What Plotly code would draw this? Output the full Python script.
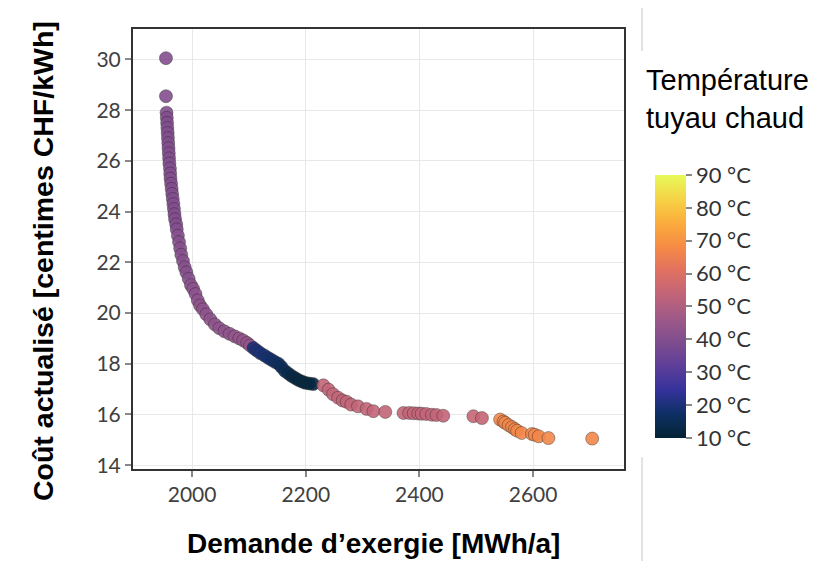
import plotly.graph_objects as go

# Data
demande = [1954, 1954, 1955, 1955.5, 1956, 1956.5, 1957, 1957.5, 1958, 1958.5, 1959, 1959.5,
           1960, 1961, 1961.5, 1962, 1963, 1964, 1965, 1966, 1967, 1968, 1969, 1970, 1972,
           1973, 1975, 1977, 1979, 1981, 1984, 1987, 1990, 1994, 1998, 2002, 2006, 2010,
           2014, 2019, 2025, 2032, 2040, 2048, 2057, 2066, 2075, 2083, 2090, 2097, 2102,
           2108, 2114, 2120, 2127, 2134, 2140, 2146, 2152, 2157, 2163, 2169, 2175, 2181,
           2187, 2193, 2199, 2206, 2213,
           2231, 2240, 2248, 2257, 2265, 2272, 2280, 2292, 2307, 2319, 2340, 2372, 2382,
           2390, 2398, 2404, 2412, 2422, 2430, 2442, 2495, 2510,
           2542, 2548, 2551, 2557, 2563, 2568, 2572, 2580, 2598, 2603, 2610, 2627, 2704]
cout = [30.05, 28.55, 27.9, 27.7, 27.5, 27.3, 27.1, 26.9, 26.7, 26.5, 26.3, 26.1,
        25.9, 25.7, 25.5, 25.3, 25.1, 24.9, 24.7, 24.5, 24.3, 24.1, 23.9, 23.7, 23.5,
        23.3, 23.05, 22.8, 22.55, 22.3, 22.05, 21.8, 21.6, 21.35, 21.1, 20.95, 20.75, 20.5,
        20.3, 20.15, 19.95, 19.75, 19.55, 19.4, 19.28, 19.18, 19.08, 19.0, 18.92, 18.82, 18.72,
        18.62, 18.52, 18.42, 18.33, 18.23, 18.15, 18.07, 18.0, 17.88, 17.72, 17.62, 17.52, 17.44,
        17.36, 17.3, 17.25, 17.22, 17.2,
        17.15, 16.98, 16.8, 16.66, 16.55, 16.5, 16.39, 16.32, 16.22, 16.13, 16.1, 16.06, 16.06,
        16.05, 16.04, 16.03, 16.02, 15.99, 15.98, 15.95, 15.93, 15.86,
        15.8, 15.72, 15.67, 15.58, 15.5, 15.42, 15.36, 15.27, 15.23, 15.2, 15.14, 15.07, 15.05]
temperature = [40, 40, 40, 40, 40, 40, 40, 40, 40, 40, 40, 40,
               40, 40, 40, 40, 40, 40, 40, 40, 40, 40, 40, 40, 40,
               40, 41, 41, 41, 41, 41, 41, 41, 41, 42, 42, 42, 42,
               43, 43, 43, 43, 43, 43, 43, 43, 44, 44, 44, 44, 44,
               20, 20, 20, 19, 19, 18, 18, 17, 16, 15, 14, 13, 13,
               12, 12, 12, 12, 12,
               54, 54, 54, 54, 54, 54, 54, 54, 54, 54, 54, 54, 54,
               54, 54, 54, 54, 54, 54, 54, 55, 55,
               67, 67, 67, 67, 67, 67, 67, 67, 67, 67, 67, 67, 67]

cb_vals = [10, 20, 30, 40, 50, 60, 70, 80, 90]
cb_text = [f"{v} °C" for v in cb_vals]

fig = go.Figure()
fig.add_trace(go.Scatter(
    x=demande, y=cout, mode="markers",
    marker=dict(
        size=13, color=temperature, colorscale="thermal", cmin=10, cmax=90,
        opacity=0.9, line=dict(width=1, color="rgba(40,40,40,0.45)"),
        colorbar=dict(
            x=1.0625, xanchor="left", y=0.3695, yanchor="middle",
            len=0.598, lenmode="fraction", thickness=31, xpad=0, ypad=0,
            outlinewidth=0, tickvals=cb_vals, ticktext=cb_text,
            ticks="outside", ticklen=6, tickwidth=2, tickcolor="#888",
            tickfont=dict(family="Lato, sans-serif", size=22, color="#333"),
        ),
    ),
    showlegend=False,
))

fig.update_layout(
    width=821, height=561,
    margin=dict(l=125, r=205, t=21, b=100),
    paper_bgcolor="white", plot_bgcolor="white",
    xaxis=dict(
        range=[1896, 2760], tickvals=[2000, 2200, 2400, 2600],
        showgrid=True, gridcolor="#e8e8e8", gridwidth=1, zeroline=False,
        showline=True, linecolor="#333", linewidth=2, mirror=True,
        ticks="outside", ticklen=6, tickwidth=2, tickcolor="#888",
        tickfont=dict(family="Lato, sans-serif", size=21, color="#404040"),
    ),
    yaxis=dict(
        range=[13.85, 31.2], tickvals=[14, 16, 18, 20, 22, 24, 26, 28, 30],
        showgrid=True, gridcolor="#e8e8e8", gridwidth=1, zeroline=False,
        showline=True, linecolor="#333", linewidth=2, mirror=True,
        ticks="outside", ticklen=6, tickwidth=2, tickcolor="#888",
        tickfont=dict(family="Lato, sans-serif", size=21, color="#404040"),
    ),
    annotations=[
        dict(text="<b>Demande d’exergie [MWh/a]</b>", xref="paper", yref="paper",
             x=0.49, y=-0.17, xanchor="center", yanchor="middle", showarrow=False,
             font=dict(family="Liberation Sans, Arial, sans-serif", size=28, color="black")),
        dict(text="<b>Coût actualisé [centimes CHF/kWh]</b>", xref="paper", yref="paper",
             x=-0.183, y=0.473, xanchor="center", yanchor="middle", showarrow=False,
             textangle=-90,
             font=dict(family="Liberation Sans, Arial, sans-serif", size=28.5, color="black")),
        dict(text="Température<br>tuyau chaud", xref="paper", yref="paper",
             x=1.04, y=0.925, xanchor="left", yanchor="top", showarrow=False, align="left",
             font=dict(family="Liberation Sans, Arial, sans-serif", size=29, color="black")),
    ],
    shapes=[
        dict(type="line", xref="paper", yref="paper", x0=1.0367, x1=1.0367, y0=0.95, y1=1.05,
             line=dict(color="#c8c8c8", width=1)),
        dict(type="line", xref="paper", yref="paper", x0=1.0367, x1=1.0367, y0=-0.23, y1=0.027,
             line=dict(color="#c8c8c8", width=1)),
    ],
)

fig.write_html("out.html")
